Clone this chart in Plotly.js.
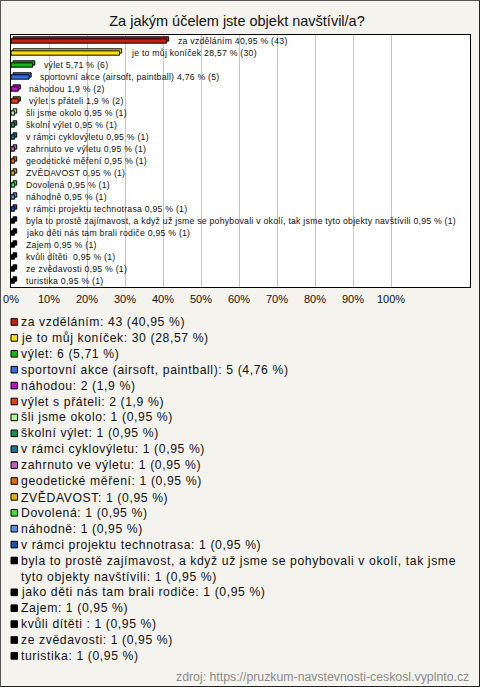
<!DOCTYPE html>
<html>
<head>
<meta charset="utf-8">
<script src="https://cdn.plot.ly/plotly-3.0.1.min.js"></script>
<style>
  html, body { margin: 0; padding: 0; background: #f4f3ee; }
  #wrap { position: relative; width: 480px; height: 687px; }
  #chart { width: 480px; height: 687px; }
  #frame { position: absolute; left: 0; top: 0; width: 480px; height: 687px; box-sizing: border-box;
           border: 1px solid #555; border-right-color: #222; border-bottom-color: #222; pointer-events: none; }
</style>
</head>
<body>
<div id="wrap"><div id="chart"></div><div id="frame"></div></div>
<script>
// ---- data ----
const categories = [
  "za vzděláním",
  "je to můj koníček",
  "výlet",
  "sportovní akce (airsoft, paintball)",
  "náhodou",
  "výlet s přáteli",
  "šli jsme okolo",
  "školní výlet",
  "v rámci cyklovýletu",
  "zahrnuto ve výletu",
  "geodetické měření",
  "ZVĚDAVOST",
  "Dovolená",
  "náhodně",
  "v rámci projektu technotrasa",
  "byla to prostě zajímavost, a když už jsme se pohybovali v okolí, tak jsme tyto objekty navštívili",
  "jako děti nás tam brali rodiče",
  "Zajem",
  "kvůli dítěti ",
  "ze zvědavosti",
  "turistika"
];
const counts = [43, 30, 6, 5, 2, 2, 1, 1, 1, 1, 1, 1, 1, 1, 1, 1, 1, 1, 1, 1, 1];
const percents = [40.95, 28.57, 5.71, 4.76, 1.9, 1.9, 0.95, 0.95, 0.95, 0.95, 0.95, 0.95, 0.95, 0.95, 0.95, 0.95, 0.95, 0.95, 0.95, 0.95, 0.95];
const colors = [
  "#c8200e", "#f5e20f", "#12b812", "#3a6ee0", "#c010c8", "#e04010",
  "#b4f596", "#14905c", "#14788a", "#c060c0", "#e06a10", "#e0b010",
  "#40e040", "#6090e0", "#2050b0",
  "#000000", "#000000", "#000000", "#000000", "#000000", "#000000"
];
const tickValues = [0, 10, 20, 30, 40, 50, 60, 70, 80, 90, 100];
const tickLabels = ["0%", "10%", "20%", "30%", "40%", "50%", "60%", "70%", "80%", "90%", "100%"];
const titleText = "Za jakým účelem jste objekt navštívil/a?";
const sourceText = "zdroj: https://pruzkum-navstevnosti-ceskosl.vyplnto.cz";

// ---- layout geometry (pixels) ----
const W = 480, H = 687;
const L = 11, R = 470, T = 35, B = 287;
const pw = R - L, ph = B - T;
const px2x = p => (p - L) / pw;
const px2y = p => (B - p) / ph;

const fmt = v => String(v).replace(".", ",");
const FONT = "Liberation Sans, Arial, sans-serif";

const barW = 0.36;       // front face thickness (category units)
const depthY = 0.17;     // depth offset upward (category units)
const depthX = 0.55;     // depth offset to the right (% units)

const backTrace = {
  type: "bar", orientation: "h",
  y: categories, x: percents,
  base: categories.map(() => depthX),
  width: barW, offset: -barW / 2 - depthY,
  marker: { color: colors, line: { color: "#000", width: 1 } },
  hoverinfo: "skip", showlegend: false
};
const frontTrace = {
  type: "bar", orientation: "h",
  y: categories, x: percents,
  width: barW, offset: -barW / 2,
  marker: { color: colors, line: { color: "#000", width: 1 } },
  showlegend: false
};

const annotations = [];
const group = [];   // 'bar' | 'legend' | 'src'
// bar value labels
categories.forEach((c, i) => {
  annotations.push({
    x: percents[i], y: c, xref: "x", yref: "y",
    text: c.replace(/ $/, "\u00a0") + " " + fmt(percents[i]) + " % (" + counts[i] + ")",
    showarrow: false, xanchor: "left", yanchor: "middle", align: "left", xshift: 10,
    borderpad: 0,
    font: { family: FONT, size: 8.7, color: "#111" }
  });
  group.push("bar");
});

// legend (drawn as text + squares)
const shapes = [];
const legTop = 322, legStep = 15.9;
let line = 0;
function wrap(s, maxChars) {
  if (s.length <= maxChars) return [s];
  const cut = s.lastIndexOf(" ", maxChars);
  return [s.slice(0, cut), s.slice(cut + 1)];
}
categories.forEach((c, i) => {
  const full = c.replace(/ $/, "\u00a0") + ": " + counts[i] + " (" + fmt(percents[i]) + " %)";
  const parts = wrap(full, 74);
  const yc = legTop + line * legStep;
  annotations.push({
    xref: "paper", yref: "paper",
    x: px2x(20), y: px2y(yc - legStep / 2),
    text: parts.join("<br>"), align: "left",
    showarrow: false, xanchor: "left", yanchor: "top", borderpad: 0,
    font: { family: FONT, size: 12.2, color: "#111" }
  });
  group.push("legend");
  shapes.push({
    type: "rect", xref: "paper", yref: "paper",
    x0: px2x(11), x1: px2x(17.5), y0: px2y(yc + 3.3), y1: px2y(yc - 3.3),
    fillcolor: colors[i], line: { color: "#000", width: 1 }
  });
  line += parts.length;
});

// source
annotations.push({
  xref: "paper", yref: "paper", x: px2x(470), y: px2y(676.5),
  text: sourceText, showarrow: false, xanchor: "right", yanchor: "middle", borderpad: 0,
  font: { family: FONT, size: 12.3, color: "#8a8a8a" }
});
group.push("src");

const layout = {
  width: W, height: H,
  margin: { l: L, r: W - R, t: T, b: H - B, pad: 0 },
  paper_bgcolor: "#f4f3ee", plot_bgcolor: "#ffffff",
  font: { family: FONT, color: "#111" },
  title: {
    text: titleText, xref: "container", yref: "container",
    x: 237 / W, y: 1 - 21 / H, xanchor: "center", yanchor: "middle",
    font: { family: FONT, size: 14.5, color: "#111" }
  },
  barmode: "overlay",
  showlegend: false,
  xaxis: {
    range: [0, (R - L) / 3.8], fixedrange: true,
    tickvals: tickValues, ticktext: tickLabels,
    showgrid: true, gridcolor: "#c4c4c4", gridwidth: 1,
    zeroline: false, showline: true, linecolor: "#000", linewidth: 1, mirror: true,
    ticks: "", ticklabelstandoff: 2,
    tickfont: { family: FONT, size: 11, color: "#111" }
  },
  yaxis: {
    type: "category", categoryarray: categories, categoryorder: "array",
    autorange: "reversed", showticklabels: false, ticks: "",
    showgrid: false, zeroline: false, showline: true, linecolor: "#000", linewidth: 1, mirror: true,
    fixedrange: true
  },
  annotations: annotations,
  shapes: shapes
};

// target text extents (px) of the longest line in each group, as in the reference
const longest = 15;
const targetWidth = { bar: 430, legend: 435 };

Plotly.newPlot("chart", [backTrace, frontTrace], layout, { displayModeBar: false, staticPlot: true })
  .then(gd => {
    const groups = {};
    gd.querySelectorAll("g.annotation").forEach(g => {
      groups[+g.getAttribute("data-index")] = g;
    });
    const spacing = {};
    [["bar", longest], ["legend", categories.length + longest]].forEach(([name, idx]) => {
      const g = groups[idx];
      if (!g) return;
      const t = g.querySelector("text");
      const first = t.querySelector("tspan.line") || t;
      const w = first.getComputedTextLength();
      const n = first.textContent.length;
      spacing[name] = Math.max(0, (targetWidth[name] - w) / n);
    });
    Object.keys(groups).forEach(k => {
      const ls = spacing[group[+k]];
      if (ls) groups[k].querySelectorAll("text").forEach(t => t.style.letterSpacing = ls.toFixed(3) + "px");
    });
  });
</script>
</body>
</html>
